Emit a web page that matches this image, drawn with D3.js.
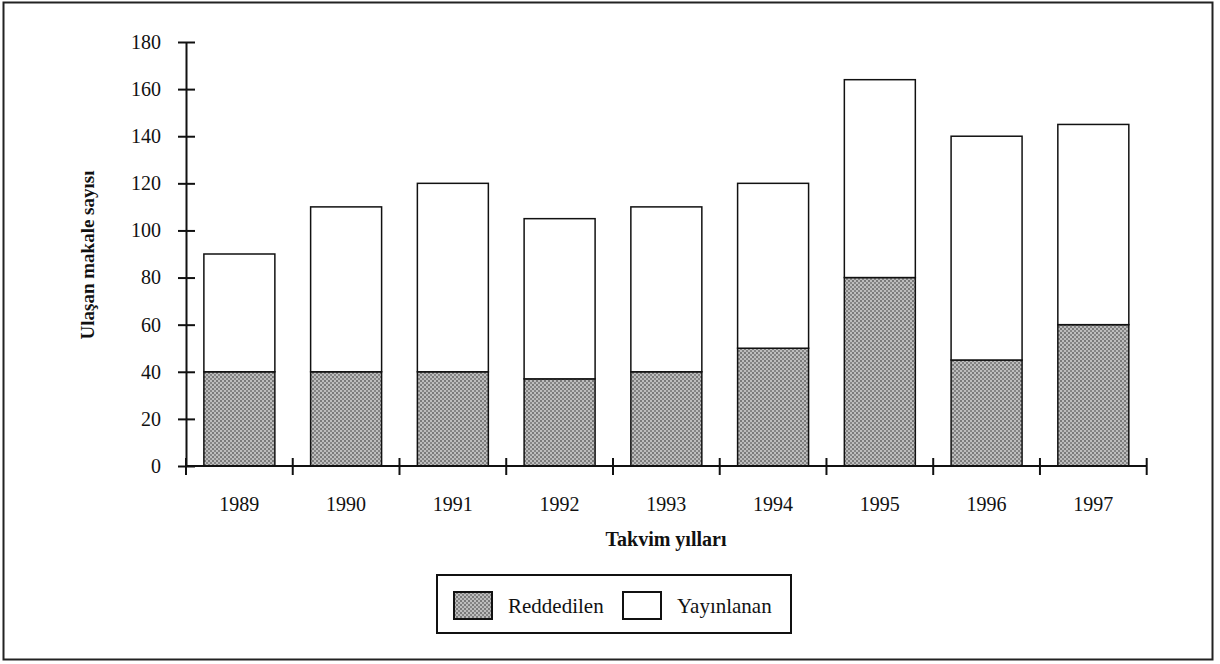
<!DOCTYPE html>
<html>
<head>
<meta charset="utf-8">
<title>Ulaşan makale sayısı</title>
<style>
  body { margin: 0; background: #fff; }
  text { font-family: "Liberation Serif", "Times New Roman", serif; fill: #111; }
</style>
</head>
<body>
<div id="chart"></div>
<script src="https://d3js.org/d3.v7.min.js"></script>
<script>
// data
const years = ["1989", "1990", "1991", "1992", "1993", "1994", "1995", "1996", "1997"];
const reddedilen = [40, 40, 40, 37, 40, 50, 80, 45, 60];
const toplam = [90, 110, 120, 105, 110, 120, 164, 140, 145];
const yTicks = [0, 20, 40, 60, 80, 100, 120, 140, 160, 180];
const seriesNames = ["Reddedilen", "Yayınlanan"];

const W = 1220, H = 664;
const svg = d3.select("#chart").append("svg")
  .attr("width", W).attr("height", H);

// checkered grey fill
const defs = svg.append("defs");
const pat = defs.append("pattern")
  .attr("id", "dots").attr("patternUnits", "userSpaceOnUse")
  .attr("width", 4).attr("height", 4);
pat.append("rect").attr("width", 4).attr("height", 4).attr("fill", "#bdbdbd");
pat.append("rect").attr("x", 0).attr("y", 0).attr("width", 2).attr("height", 2).attr("fill", "#7a7a7a");
pat.append("rect").attr("x", 2).attr("y", 2).attr("width", 2).attr("height", 2).attr("fill", "#858585");

// outer frame
svg.append("rect").attr("x", 3.5).attr("y", 2.5).attr("width", 1209).attr("height", 657)
  .attr("fill", "none").attr("stroke", "#222").attr("stroke-width", 2);

const x = d3.scaleBand().domain(years).range([186, 1146.7]).paddingInner(0.335).paddingOuter(0.1675);
const y = d3.scaleLinear().domain([0, 180]).range([466, 42]);

const rows = years.map((yr, i) => ({ year: yr, Reddedilen: reddedilen[i], Yayınlanan: toplam[i] - reddedilen[i] }));
const stack = d3.stack().keys(seriesNames)(rows);
const fills = { "Reddedilen": "url(#dots)", "Yayınlanan": "#fff" };

svg.append("g").selectAll("g")
  .data(stack).join("g")
  .attr("fill", d => fills[d.key])
  .selectAll("rect")
  .data(d => d).join("rect")
    .attr("x", d => x(d.data.year))
    .attr("width", x.bandwidth())
    .attr("y", d => y(d[1]))
    .attr("height", d => y(d[0]) - y(d[1]))
    .attr("stroke", "#111").attr("stroke-width", 1.5);

// y axis
const yAxis = svg.append("g").attr("transform", "translate(186,0)")
  .call(d3.axisLeft(y).tickValues(yTicks).tickSizeInner(9).tickSizeOuter(0).tickPadding(16));
yAxis.select(".domain").attr("stroke", "#111").attr("stroke-width", 2);
yAxis.selectAll(".tick line").attr("x2", 9).attr("x1", -8).attr("stroke", "#111").attr("stroke-width", 2);
yAxis.selectAll(".tick text").attr("font-size", 20).attr("font-family", "Liberation Serif").attr("fill", "#111");

// x axis with ticks at band boundaries
const xAxis = svg.append("g").attr("transform", "translate(0,466)");
xAxis.append("line").attr("x1", 186).attr("x2", 1146.7).attr("stroke", "#111").attr("stroke-width", 2);
const step = x.step();
xAxis.selectAll(".bt").data(d3.range(years.length + 1)).join("line")
  .attr("x1", i => 186 + i * step).attr("x2", i => 186 + i * step)
  .attr("y1", -8).attr("y2", 9).attr("stroke", "#111").attr("stroke-width", 2);
xAxis.selectAll(".lbl").data(years).join("text")
  .attr("x", d => x(d) + x.bandwidth() / 2).attr("y", 45)
  .attr("text-anchor", "middle").attr("font-size", 20).text(d => d);

// axis titles
svg.append("text").attr("x", 666).attr("y", 546).attr("text-anchor", "middle")
  .attr("font-size", 20).attr("font-weight", "bold").text("Takvim yılları");
svg.append("text").attr("transform", "translate(94,255) rotate(-90)").attr("text-anchor", "middle")
  .attr("font-size", 19).attr("font-weight", "bold").text("Ulaşan makale sayısı");

// legend
const lg = svg.append("g");
lg.append("rect").attr("x", 437).attr("y", 575).attr("width", 354).attr("height", 58)
  .attr("fill", "#fff").attr("stroke", "#111").attr("stroke-width", 2);
const legendPos = [{ sx: 454, tx: 508 }, { sx: 623, tx: 677 }];
seriesNames.forEach((name, i) => {
  lg.append("rect").attr("x", legendPos[i].sx).attr("y", 592).attr("width", 38).attr("height", 27)
    .attr("fill", fills[name]).attr("stroke", "#111").attr("stroke-width", 2);
  lg.append("text").attr("x", legendPos[i].tx).attr("y", 613).attr("font-size", 21).text(name);
});
</script>
</body>
</html>
